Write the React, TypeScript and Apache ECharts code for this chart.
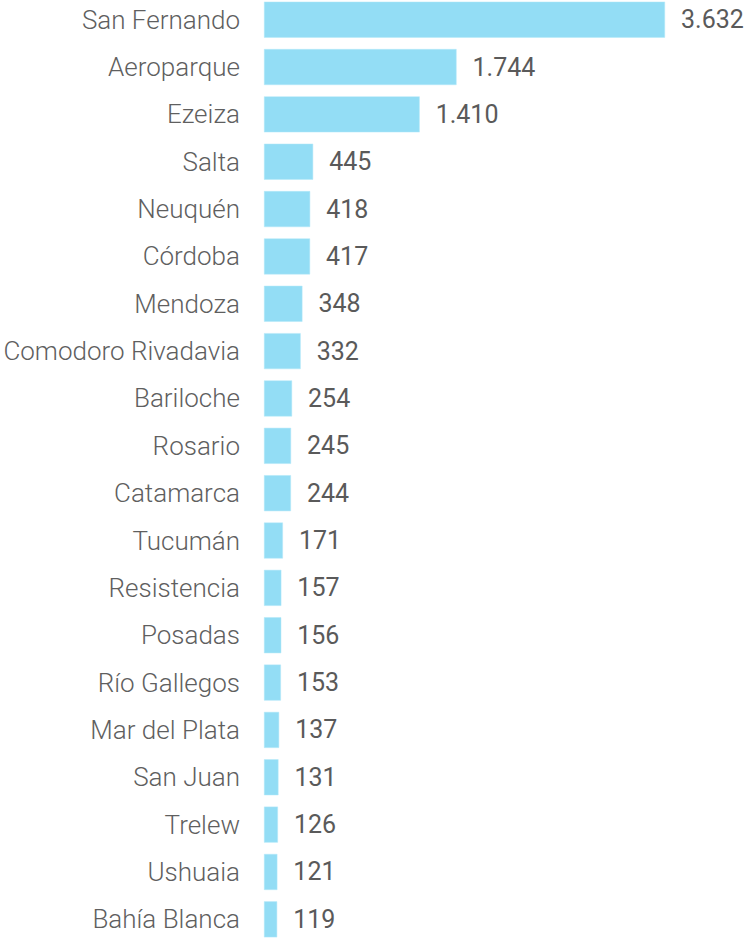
import React, { useEffect, useRef } from "react";
import * as echarts from "echarts";

const categories = [
  "San Fernando", "Aeroparque", "Ezeiza", "Salta", "Neuquén", "Córdoba", "Mendoza",
  "Comodoro Rivadavia", "Bariloche", "Rosario", "Catamarca", "Tucumán", "Resistencia",
  "Posadas", "Río Gallegos", "Mar del Plata", "San Juan", "Trelew", "Ushuaia", "Bahía Blanca",
];
const values = [3632, 1744, 1410, 445, 418, 417, 348, 332, 254, 245, 244, 171, 157, 156, 153, 137, 131, 126, 121, 119];

const fmt = (v: number) => String(v).replace(/\B(?=(\d{3})+(?!\d))/g, ".");

export default function App() {
  const ref = useRef<HTMLDivElement>(null);
  useEffect(() => {
    if (!ref.current) return;
    const chart = echarts.init(ref.current, undefined, { renderer: "svg" });
    chart.setOption({
      animation: false,
      backgroundColor: "#ffffff",
      grid: { left: 264, top: 2, width: 401, height: 947, containLabel: false },
      xAxis: {
        type: "value",
        min: 0,
        max: 3632,
        show: false,
      },
      yAxis: {
        type: "category",
        data: categories,
        inverse: true,
        axisLine: { show: false },
        axisTick: { show: false },
        splitLine: { show: false },
        axisLabel: {
          margin: 24,
          fontFamily: "Roboto",
          fontWeight: 300,
          fontSize: 26,
          color: "#5f5f5f",
        },
      },
      series: [
        {
          type: "bar",
          data: values,
          barCategoryGap: "24%",
          itemStyle: { color: "#93DDF5", borderColor: "#b5e8f8", borderWidth: 0.5 },
          label: {
            show: true,
            position: "right",
            distance: 16,
            fontFamily: "Roboto",
            fontSize: 25,
            color: "#5a5a5a",
            formatter: (p: any) => fmt(p.value),
          },
        },
      ],
    });
    return () => chart.dispose();
  }, []);
  return (
    <div
      ref={ref}
      style={{ position: "fixed", left: 0, top: -6, width: 745, height: 952, background: "#fff" }}
    />
  );
}
